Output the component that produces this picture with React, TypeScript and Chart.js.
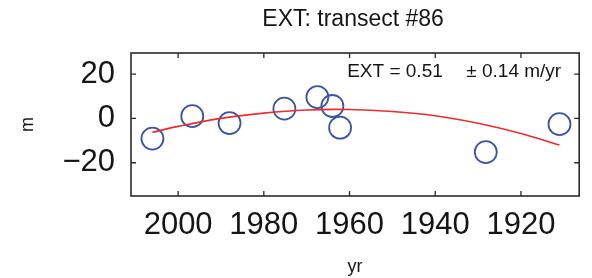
import { useEffect, useRef } from 'react';
import { Chart, registerables } from 'chart.js';

Chart.register(...registerables);

// Observed transect positions
const pointYears = [2006, 1996.7, 1988, 1975.2, 1967.5, 1964, 1962.2, 1928.2, 1911];
const pointValues = [-9.1, 1.0, -2.1, 4.4, 9.6, 5.6, -4.2, -15.2, -2.6];

// Fitted curve
const fitYears = [2006, 2000, 1990, 1980, 1970, 1960, 1950, 1940, 1930, 1920, 1911];
const fitValues = [-6.3, -3.6, 0.0, 2.4, 3.8, 4.0, 3.1, 1.2, -2.2, -6.8, -12.0];

const xTickValues = [2000, 1980, 1960, 1940, 1920];
const yTickValues = [20, 0, -20];

const titleText = 'EXT: transect #86';
const rateLeft = 'EXT = 0.51';
const rateRight = '\u00b1 0.14 m/yr';
const xTitle = 'yr';
const yTitle = 'm';

const SANS = '"Liberation Sans", Arial, sans-serif';
const TICK_FONT = '"Liberation Sans", Arial, sans-serif';

export default function App() {
  const ref = useRef<HTMLCanvasElement>(null);

  useEffect(() => {
    const framePlugin = {
      id: 'framePlugin',
      afterDraw(chart: any) {
        const { ctx, chartArea } = chart;
        const { left, right, top, bottom } = chartArea;
        const xs = chart.scales.x;
        const ys = chart.scales.y;
        ctx.save();
        ctx.strokeStyle = '#2a2a2a';
        ctx.lineWidth = 1.6;
        ctx.strokeRect(left, top, right - left, bottom - top);
        const tl = 5;
        ctx.lineWidth = 1.3;
        ctx.beginPath();
        xTickValues.forEach((v) => {
          const px = xs.getPixelForValue(v);
          ctx.moveTo(px, bottom);
          ctx.lineTo(px, bottom - tl);
          ctx.moveTo(px, top);
          ctx.lineTo(px, top + tl);
        });
        yTickValues.forEach((v) => {
          const py = ys.getPixelForValue(v);
          ctx.moveTo(left, py);
          ctx.lineTo(left + tl, py);
          ctx.moveTo(right, py);
          ctx.lineTo(right - tl, py);
        });
        ctx.stroke();

        // title
        ctx.fillStyle = '#151515';
        ctx.textBaseline = 'alphabetic';
        ctx.textAlign = 'center';
        ctx.font = `23px ${SANS}`;
        ctx.fillText(titleText, (left + right) / 2 - 2, top - 27);

        // rate annotation
        ctx.font = `19px ${SANS}`;
        ctx.textAlign = 'left';
        ctx.fillText(rateLeft, right - 232, top + 23.5);
        ctx.textAlign = 'right';
        ctx.fillText(rateRight, right - 18, top + 23.5);
        ctx.restore();
      },
    };

    const chart = new Chart(ref.current as HTMLCanvasElement, {
      type: 'scatter',
      data: {
        datasets: [
          {
            type: 'line',
            label: 'fit',
            data: fitYears.map((x, i) => ({ x, y: fitValues[i] })),
            borderColor: '#ec2b2b',
            borderWidth: 1.6,
            pointRadius: 0,
            tension: 0.4,
            fill: false,
          } as any,
          {
            label: 'obs',
            data: pointYears.map((x, i) => ({ x, y: pointValues[i] })),
            borderColor: '#3a55a8',
            backgroundColor: 'rgba(0,0,0,0)',
            borderWidth: 1.8,
            pointRadius: 11,
            pointStyle: 'circle',
          },
        ],
      },
      options: {
        animation: false,
        responsive: true,
        maintainAspectRatio: false,
        layout: { padding: { top: 53, right: 4, bottom: 0, left: 0 } },
        plugins: {
          legend: { display: false },
          tooltip: { enabled: false },
          title: { display: false },
        },
        scales: {
          x: {
            type: 'linear',
            reverse: true,
            min: 1906.4,
            max: 2011,
            grid: { display: false, drawTicks: false },
            border: { display: false },
            afterBuildTicks: (s: any) => {
              s.ticks = xTickValues.map((value) => ({ value }));
            },
            afterFit: (s: any) => {
              s.height = 82;
            },
            ticks: {
              padding: 11,
              color: '#151515',
              font: { family: TICK_FONT, size: 31 },
              callback: (v: any) => (v < 0 ? '\u2212' + Math.abs(v) : String(v)),
              maxRotation: 0,
              autoSkip: false,
            },
            title: {
              display: true,
              text: xTitle,
              color: '#151515',
              font: { family: SANS, size: 18 },
              padding: { top: 0, bottom: 0 },
            },
          },
          y: {
            type: 'linear',
            min: -35,
            max: 29.5,
            grid: { display: false, drawTicks: false },
            border: { display: false },
            afterBuildTicks: (s: any) => {
              s.ticks = yTickValues.map((value) => ({ value }));
            },
            afterFit: (s: any) => {
              s.width = 131;
            },
            ticks: {
              padding: 16,
              color: '#151515',
              font: { family: TICK_FONT, size: 31 },
              callback: (v: any) => (v < 0 ? '\u2212' + Math.abs(v) : String(v)),
              autoSkip: false,
            },
            title: {
              display: true,
              text: yTitle,
              color: '#151515',
              font: { family: SANS, size: 18 },
              padding: { top: 17, bottom: 0 },
            },
          },
        },
      },
      plugins: [framePlugin],
    });

    return () => chart.destroy();
  }, []);

  return (
    <div style={{ position: 'absolute', left: 0, top: 0, width: 592, height: 278 }}>
      <canvas ref={ref} />
    </div>
  );
}
